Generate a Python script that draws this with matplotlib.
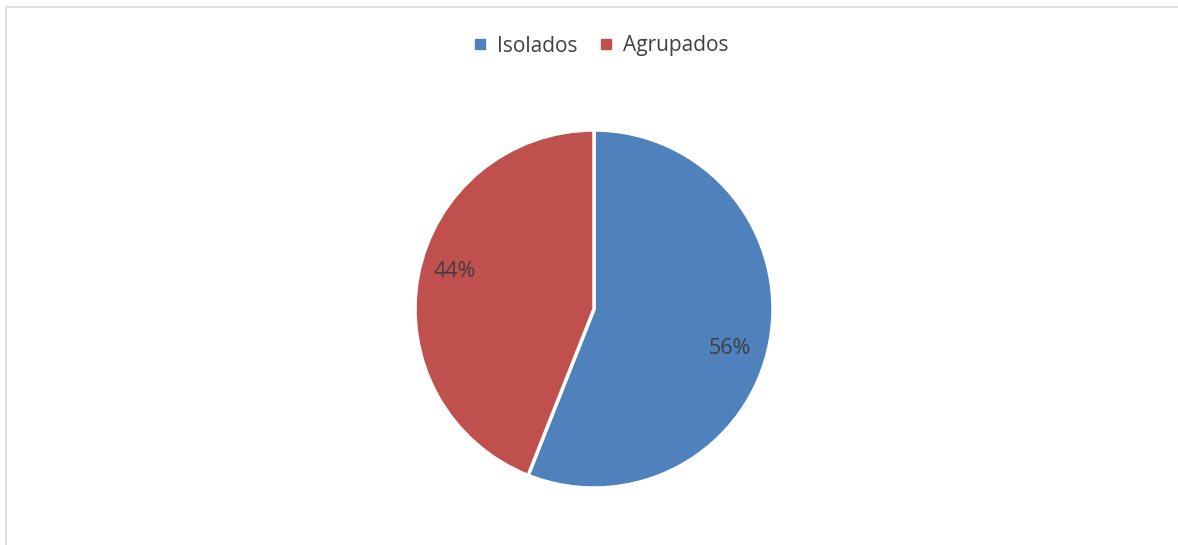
import matplotlib
matplotlib.use('Agg')
import matplotlib.pyplot as plt
from matplotlib.patches import Rectangle
from matplotlib.lines import Line2D

labels = ['Isolados', 'Agrupados']
shares = [56, 44]
colors = ['#4F81BD', '#C0504D']

W, H = 1178, 545
plt.rcParams['font.family'] = ['Open Sans', 'DejaVu Sans']

fig = plt.figure(figsize=(W / 100, H / 100), dpi=100)

# chart area frame (only top and left edges fall inside the image)
fig.add_artist(Rectangle((6 / W, -0.1), 1.2, 1.1 - 7 / H, transform=fig.transFigure,
                         fill=False, edgecolor='#d9d9d9', linewidth=1.2))

cx, cy, r = 594, 545 - 309, 179
ax = fig.add_axes([(cx - r) / W, (cy - r) / H, 2 * r / W, 2 * r / H])
wedges, texts, autotexts = ax.pie(shares, colors=colors, startangle=90, counterclock=False,
                                  autopct='%d%%', pctdistance=0.79,
                                  wedgeprops=dict(edgecolor='white', linewidth=2.5),
                                  textprops=dict(color='#404040', fontsize=15.5))
# best-fit label placement, nudged off the wedge mid-line
for t, (dx, dy) in zip(autotexts, [(0.76, -0.22), (-0.78, 0.21)]):
    t.set_position((dx, dy))
ax.set_xlim(-1.0, 1.0)
ax.set_ylim(-1.0, 1.0)
ax.set_aspect('equal')

handles = [Line2D([], [], marker='s', linestyle='none', markersize=6.5,
                  markerfacecolor=c, markeredgecolor=c) for c in colors]
fig.legend(handles, labels, loc='center', bbox_to_anchor=(599 / W, 1 - 46 / H),
           ncol=2, frameon=False, fontsize=15, labelcolor='#404040',
           handletextpad=0.3, columnspacing=0.9, handlelength=1.0)

fig.savefig('out.png', dpi=100)
